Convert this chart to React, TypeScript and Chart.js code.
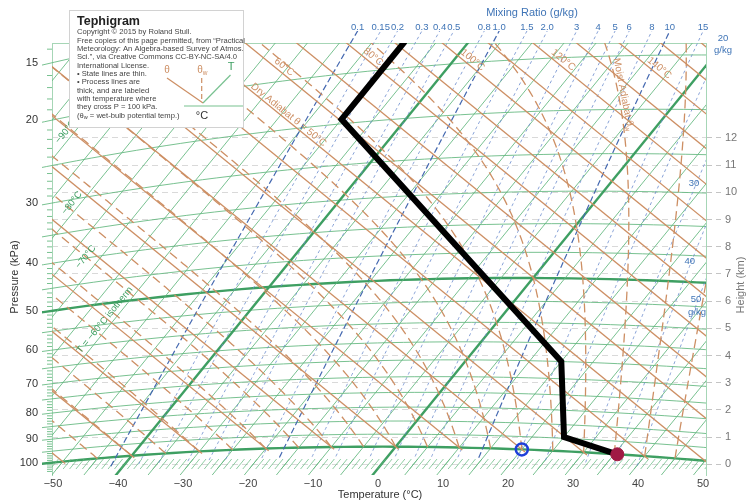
import React, { useEffect, useRef } from "react";
import { Chart, registerables } from "chart.js";

Chart.register(...registerables);

// ---------------- Data ----------------
// Environmental sounding (thick black process line)
const soundingP = [100, 94.5, 70, 24.5, 17.8]; // kPa
const soundingT = [35.5, 25, 15, -50, -50]; // °C
// Surface observations
const surfaceP = [100];
const surfaceT = [35.5]; // filled red dot
const dewpointP = [100];
const dewpointT = [20]; // open blue circle

// ---------------- Axis / grid values ----------------
const tempTicks = [-50, -40, -30, -20, -10, 0, 10, 20, 30, 40, 50];
const pressureTicks = [15, 20, 30, 40, 50, 60, 70, 80, 90, 100];
const heightTicks = [0, 1, 2, 3, 4, 5, 6, 7, 8, 9, 10, 11, 12];
const isobarValues = [15, 20, 25, 30, 35, 40, 45, 50, 55, 60, 65, 70, 75, 80, 85, 90, 95, 100];
const thickIsobars = [50, 100];
const isothermValues = [
  -110, -105, -100, -95, -90, -85, -80, -75, -70, -65, -60, -55, -50, -45, -40, -35, -30, -25,
  -20, -15, -10, -5, 0, 5, 10, 15, 20, 25, 30, 35, 40, 45, 50, 55,
];
const thickIsotherms = [-40, 0];
const dryAdiabatValues = [-50, -40, -30, -20, -10, 0, 10, 20, 30, 40, 50, 60, 70, 80, 90, 100, 110, 120, 130, 140, 150, 160, 170];
const moistAdiabatValues = [-45, -40, -35, -30, -25, -20, -15, -10, -5, 0, 5, 10, 15, 20, 25, 30, 35, 40, 45];
const mixingRatioValues = [0.1, 0.15, 0.2, 0.3, 0.4, 0.5, 0.8, 1, 1.5, 2, 3, 4, 5, 6, 8, 10, 15, 20, 30, 40, 50];
const mixingRatioLabels = ["0.1", "0.15", "0.2", "0.3", "0.4", "0.5", "0.8", "1.0", "1.5", "2.0", "3", "4", "5", "6", "8", "10", "15", "20", "30", "40", "50"];
const darkMixingRatios = [0.1, 1, 10];

const legendLines = [
  "Copyright © 2015 by Roland Stull.",
  "Free copies of this page permitted, from “Practical",
  "Meteorology: An Algebra-based Survey of Atmos.",
  "Sci.”, via Creative Commons CC-BY-NC-SA/4.0",
  "International License.",
  "• State lines are thin.",
  "• Process lines are",
  "thick, and are labeled",
  "with temperature where",
  "they cross P = 100 kPa.",
];

// ---------------- Styling ----------------
const FONT = '"Liberation Sans", Arial, Helvetica, sans-serif';
const GREEN = "rgba(96,182,124,0.85)";
const GREEN_HATCH = "rgba(96,182,124,0.7)";
const GREEN_THICK = "#3e9f62";
const FRAME_GREEN = "#a6d6b6";
const BROWN = "#cd8f64";
const BLUE = "rgba(108,140,205,0.9)";
const BLUE_DARK = "#4468b0";
const LABEL_BLUE = "#3f74b6";

// ---------------- Geometry of the diagram ----------------
const FRAME = { left: 52, right: 706, top: 43, bottom: 475 };
const X_MIN = -50.154;
const X_MAX = 50.462;
const KM0 = 464.3;
const KM_PX = 27.2;

const ORIGIN_X = 395.7; // (0 °C, 100 kPa)
const ORIGIN_Y = 446.7;
const A_T = 3.857;
const D_T = -3.143;
const B_L = 693;
const E_L = 851;
const KAPPA = 0.286;
const T0K = 273.15;
const L0 = Math.log(T0K);

const px = (Tc: number, lnTh: number): [number, number] => {
  const dL = lnTh - L0;
  return [ORIGIN_X + A_T * Tc + B_L * dL, ORIGIN_Y - (D_T * Tc + E_L * dL)];
};
const lnTheta = (Tc: number, P: number) => Math.log(Tc + T0K) + KAPPA * Math.log(100 / P);
const pxTP = (Tc: number, P: number) => px(Tc, lnTheta(Tc, P));
const xVal = (X: number) => X_MIN + ((X - FRAME.left) / (FRAME.right - FRAME.left)) * (X_MAX - X_MIN);
const yVal = (Y: number) => FRAME.bottom - Y;
const toPoint = (Tc: number, P: number) => {
  const [X, Y] = pxTP(Tc, P);
  return { x: xVal(X), y: yVal(Y) };
};

const esat = (TK: number) => 0.611 * Math.exp(5423 * (1 / T0K - 1 / TK)); // kPa
const tFromMix = (r: number, P: number) => {
  const es = (r * P) / (622 + r);
  return 1 / (1 / T0K - Math.log(es / 0.611) / 5423) - T0K;
};
const dTdP = (TK: number, P: number) => {
  const es = esat(TK);
  const rs = (0.622 * es) / Math.max(P - es, 1e-3);
  const Lv = 2.5e6;
  const Rd = 287.04;
  return (Rd * TK + Lv * rs) / (P * (1004 + (Lv * Lv * rs * 0.622) / (Rd * TK * TK)));
};
const moistPath = (thw: number) => {
  const out: [number, number][] = [];
  let T = thw + T0K;
  let P = 100;
  const h = -0.5;
  out.push([T - T0K, P]);
  while (P > 8) {
    const k1 = dTdP(T, P);
    const k2 = dTdP(T + (h / 2) * k1, P + h / 2);
    const k3 = dTdP(T + (h / 2) * k2, P + h / 2);
    const k4 = dTdP(T + h * k3, P + h);
    T += (h / 6) * (k1 + 2 * k2 + 2 * k3 + k4);
    P += h;
    out.push([T - T0K, P]);
  }
  return out;
};
const leftEdgeY = (P: number) => {
  let lo = -220;
  let hi = 90;
  for (let i = 0; i < 60; i++) {
    const m = (lo + hi) / 2;
    if (pxTP(m, P)[0] < FRAME.left) lo = m;
    else hi = m;
  }
  return pxTP((lo + hi) / 2, P)[1];
};
const isothermXAtY = (Tc: number, Y: number) => {
  const dL = (ORIGIN_Y - Y - D_T * Tc) / E_L;
  return ORIGIN_X + A_T * Tc + B_L * dL;
};
const dryXAtY = (thC: number, Y: number) => {
  const dL = Math.log(thC + T0K) - L0;
  const dT = (ORIGIN_Y - Y - E_L * dL) / D_T;
  return ORIGIN_X + A_T * dT + B_L * dL;
};

const tephigramPlugin = {
  id: "tephigram",
  beforeDatasetsDraw(chart: any) {
    const ctx: CanvasRenderingContext2D = chart.ctx;
    const ca = chart.chartArea;
    const cv = (X: number, Y: number): [number, number] => [
      chart.scales.x.getPixelForValue(xVal(X)),
      chart.scales.y.getPixelForValue(yVal(Y)),
    ];
    const line = (pts: [number, number][], color: string, width: number, dash: number[] = []) => {
      ctx.beginPath();
      pts.forEach(([X, Y], i) => {
        const [x, y] = cv(X, Y);
        if (i === 0) ctx.moveTo(x, y);
        else ctx.lineTo(x, y);
      });
      ctx.strokeStyle = color;
      ctx.lineWidth = width;
      ctx.setLineDash(dash);
      ctx.stroke();
      ctx.setLineDash([]);
    };
    const clip = (l: number, t: number, r: number, b: number) => {
      ctx.save();
      ctx.beginPath();
      ctx.rect(l, t, r - l, b - t);
      ctx.clip();
    };
    const text = (s: string, x: number, y: number, ang: number, color: string, font: string, align: CanvasTextAlign = "center") => {
      ctx.save();
      ctx.translate(x, y);
      ctx.rotate(ang);
      ctx.fillStyle = color;
      ctx.font = font;
      ctx.textAlign = align;
      ctx.textBaseline = "middle";
      ctx.fillText(s, 0, 0);
      ctx.restore();
    };

    // --- isobars (extend a little left of the frame as ticks)
    clip(ca.left - 10, ca.top, ca.right, ca.bottom);
    for (const p of isobarValues) {
      const pts: [number, number][] = [];
      for (let T = -180; T <= 80; T += 2) pts.push(pxTP(T, p));
      const thick = thickIsobars.includes(p);
      line(pts, thick ? GREEN_THICK : GREEN, thick ? 2.4 : 1);
    }
    ctx.restore();

    // minor pressure ticks on the left edge
    for (let p = 14; p <= 104; p++) {
      if (p % 5 === 0) continue;
      const Y = leftEdgeY(p);
      if (Y < FRAME.top || Y > FRAME.bottom) continue;
      line([[FRAME.left - 5, Y], [FRAME.left, Y]], GREEN, 1);
    }

    clip(ca.left, ca.top, ca.right, ca.bottom);
    // --- isotherms
    for (const T of isothermValues) {
      const thick = thickIsotherms.includes(T);
      line([pxTP(T, 115), pxTP(T, 4)], thick ? GREEN_THICK : GREEN, thick ? 2.4 : 1);
    }
    // --- 1 °C hatch marks near the bottom
    for (let T = -60; T <= 60; T++) {
      line([[isothermXAtY(T, 459), 459], [isothermXAtY(T, 469), 469]], GREEN_HATCH, 1);
    }
    ctx.restore();

    // --- saturation mixing-ratio lines (reach slightly above the frame)
    clip(ca.left, ca.top - 12, ca.right, ca.bottom);
    const mixPaths: [number, number][][] = [];
    mixingRatioValues.forEach((r) => {
      const pts: [number, number][] = [];
      for (let P = 104; P >= 4; P -= 0.5) pts.push(pxTP(tFromMix(r, P), P));
      mixPaths.push(pts);
      const dark = darkMixingRatios.includes(r);
      line(pts, dark ? BLUE_DARK : BLUE, dark ? 1.2 : 0.9, dark ? [6, 3] : [3, 3]);
    });
    ctx.restore();

    clip(ca.left, ca.top, ca.right, ca.bottom);
    // --- dry adiabats
    for (const th of dryAdiabatValues) {
      const thK = th + T0K;
      const Tb = thK * Math.pow(101 / 100, KAPPA) - T0K;
      line([px(Tb, Math.log(thK)), px(-200, Math.log(thK))], BROWN, 1.3);
    }
    // --- moist adiabats
    let moist35: [number, number][] = [];
    for (const thw of moistAdiabatValues) {
      const pts = moistPath(thw).map(([T, P]) => pxTP(T, P));
      if (thw === 35) moist35 = pts;
      line(pts, BROWN, 1.3, [9, 5]);
    }
    ctx.restore();

    // --- mixing ratio labels
    const fLab = `9.5px ${FONT}`;
    mixingRatioValues.forEach((r, i) => {
      const pts = mixPaths[i];
      if (r <= 15) {
        let X = null as number | null;
        for (let k = 1; k < pts.length; k++) {
          if (pts[k - 1][1] >= 31 && pts[k][1] < 31) {
            const f = (pts[k - 1][1] - 31) / (pts[k - 1][1] - pts[k][1]);
            X = pts[k - 1][0] + f * (pts[k][0] - pts[k - 1][0]);
            break;
          }
        }
        if (X !== null) {
          const [x, y] = cv(X, 27);
          text(mixingRatioLabels[i], x, y, 0, LABEL_BLUE, fLab);
        }
      } else if (r === 20) {
        const [x, y] = cv(723, 38);
        text("20", x, y, 0, LABEL_BLUE, fLab);
        text("g/kg", x, y + 12, 0, LABEL_BLUE, fLab);
      } else {
        const targetY = r === 30 ? 183 : r === 40 ? 261 : 299;
        let X = FRAME.right;
        for (let k = 1; k < pts.length; k++) {
          if (pts[k - 1][1] >= targetY && pts[k][1] < targetY) {
            X = pts[k][0];
            break;
          }
        }
        const [x, y] = cv(X - 3, targetY);
        text(mixingRatioLabels[i], x, y, 0, LABEL_BLUE, fLab);
        if (r === 50) text("g/kg", x + 1, y + 13, 0, LABEL_BLUE, fLab);
      }
    });

    // --- isotherm labels
    const isoAng = Math.atan2(-E_L, B_L);
    const isoN = [Math.sin(isoAng), -Math.cos(isoAng)];
    const isoLabels: [number, number, number, string][] = [
      [-90, 132, 7, "−90°C"],
      [-80, 203, 7, "−80°C"],
      [-70, 257, 12, "−70°C"],
      [-60, 320, 7, "T = −60°C isotherm"],
    ];
    isoLabels.forEach(([T, Y, off, s]) => {
      const Yl = Y - isoN[1] * off;
      const [x, y] = cv(isothermXAtY(T, Yl) + isoN[0] * off, Y);
      text(s, x, y, isoAng, GREEN_THICK, `9.5px ${FONT}`);
    });

    // --- dry adiabat labels
    const dryAng = Math.atan2(-D_T, A_T);
    const dryN = [Math.sin(dryAng), -Math.cos(dryAng)];
    const dryLabels: [number, number, number, string][] = [
      [60, 67, 6, "60°C"],
      [80, 57, 6, "80°C"],
      [100, 60, 6, "100°C"],
      [120, 60, 6, "120°C"],
      [140, 68, 6, "140°C"],
      [50, 115, 5, "Dry Adiabat θ = 50°C"],
    ];
    dryLabels.forEach(([th, Y, off, s]) => {
      const Yl = Y - dryN[1] * off;
      const [x, y] = cv(dryXAtY(th, Yl) + dryN[0] * off, Y);
      text(s, x, y, dryAng, BROWN, `10px ${FONT}`);
    });

    // --- moist adiabat label (θw = 35 °C line)
    if (moist35.length) {
      let best = 4;
      moist35.forEach((p, k) => {
        if (k > 4 && k < moist35.length - 5 && Math.abs(p[1] - 95) < Math.abs(moist35[best][1] - 95)) best = k;
      });
      const [xa, ya] = cv(moist35[best + 4][0], moist35[best + 4][1]);
      const [xb, yb] = cv(moist35[best - 4][0], moist35[best - 4][1]);
      const [xc, yc] = cv(moist35[best][0] + 5, moist35[best][1]);
      const ang = Math.atan2(yb - ya, xb - xa);
      ctx.save();
      ctx.translate(xc, yc);
      ctx.rotate(ang);
      ctx.fillStyle = BROWN;
      ctx.font = `10px ${FONT}`;
      ctx.textBaseline = "middle";
      ctx.textAlign = "left";
      const main = "Moist Adiabat θ";
      const w = ctx.measureText(main).width;
      ctx.fillText(main, -(w + 5) / 2, 0);
      ctx.font = `7px ${FONT}`;
      ctx.fillText("w", -(w + 5) / 2 + w, 3);
      ctx.restore();
    }

    // --- title box
    ctx.save();
    ctx.fillStyle = "#ffffff";
    ctx.fillRect(69, 10, 175, 118);
    ctx.strokeStyle = "#d2d2d2";
    ctx.lineWidth = 1;
    ctx.strokeRect(69.5, 10.5, 174, 117);
    ctx.fillStyle = "#222";
    ctx.textAlign = "left";
    ctx.textBaseline = "alphabetic";
    ctx.font = `bold 12.5px ${FONT}`;
    ctx.fillText("Tephigram", 77, 24.5);
    ctx.fillStyle = "#444";
    ctx.font = `7.6px ${FONT}`;
    legendLines.forEach((s, i) => ctx.fillText(s, 77, 34.4 + i * 8.33));
    const lastY = 34.4 + 10 * 8.33;
    ctx.fillText("(θ", 77, lastY);
    let wx = 77 + ctx.measureText("(θ").width;
    ctx.font = `5.5px ${FONT}`;
    ctx.fillText("w", wx, lastY + 1.5);
    wx += ctx.measureText("w").width;
    ctx.font = `7.6px ${FONT}`;
    ctx.fillText(" = wet-bulb potential temp.)", wx, lastY);
    // mini key
    ctx.lineWidth = 1.2;
    ctx.strokeStyle = BROWN;
    ctx.beginPath();
    ctx.moveTo(167, 78);
    ctx.lineTo(203, 103);
    ctx.stroke();
    ctx.setLineDash([5, 3]);
    ctx.beginPath();
    ctx.moveTo(201.7, 78);
    ctx.lineTo(201.7, 100);
    ctx.stroke();
    ctx.setLineDash([]);
    ctx.strokeStyle = GREEN;
    ctx.beginPath();
    ctx.moveTo(230.5, 75);
    ctx.lineTo(203, 103);
    ctx.stroke();
    ctx.beginPath();
    ctx.moveTo(184, 106);
    ctx.lineTo(243, 106);
    ctx.stroke();
    ctx.textAlign = "center";
    ctx.textBaseline = "middle";
    ctx.font = `10px ${FONT}`;
    ctx.fillStyle = BROWN;
    ctx.fillText("θ", 167, 70);
    ctx.fillText("θ", 200, 70);
    ctx.font = `6.5px ${FONT}`;
    ctx.fillText("w", 205, 73);
    ctx.fillStyle = GREEN_THICK;
    ctx.font = `11px ${FONT}`;
    ctx.fillText("T", 231, 67);
    ctx.fillStyle = "#333";
    ctx.font = `11px ${FONT}`;
    ctx.fillText("°C", 202, 115.5);
    ctx.restore();

    // --- axis titles
    text("Pressure (kPa)", 15, 277, -Math.PI / 2, "#333", `11px ${FONT}`);
    text("Height (km)", 741, 285, -Math.PI / 2, "#777", `11px ${FONT}`);
    text("Temperature (°C)", 380, 495, 0, "#333", `11px ${FONT}`);
    text("Mixing Ratio (g/kg)", 532, 13, 0, LABEL_BLUE, `11px ${FONT}`);
  },
};

export default function App() {
  const ref = useRef<HTMLCanvasElement>(null);
  useEffect(() => {
    const canvas = ref.current;
    if (!canvas) return;
    const chart = new Chart(canvas, {
      type: "scatter",
      data: {
        datasets: [
          {
            label: "Surface temperature",
            data: surfaceP.map((p, i) => toPoint(surfaceT[i], p)),
            pointRadius: 6.5,
            pointBackgroundColor: "#a01a44",
            pointBorderColor: "#a01a44",
            pointBorderWidth: 1,
            showLine: false,
          },
          {
            label: "Surface dew point",
            data: dewpointP.map((p, i) => toPoint(dewpointT[i], p)),
            pointRadius: 6,
            pointBackgroundColor: "rgba(0,0,0,0)",
            pointBorderColor: "#1d3fd8",
            pointBorderWidth: 2.5,
            showLine: false,
          },
          {
            label: "Sounding",
            data: soundingP.map((p, i) => toPoint(soundingT[i], p)),
            showLine: true,
            borderColor: "#000",
            borderWidth: 6,
            borderJoinStyle: "miter",
            pointRadius: 0,
            tension: 0,
          },
        ],
      },
      options: {
        responsive: false,
        maintainAspectRatio: false,
        animation: false,
        devicePixelRatio: 1,
        events: [],
        layout: { padding: 0, autoPadding: false },
        plugins: { legend: { display: false }, tooltip: { enabled: false }, title: { display: false } },
        scales: {
          x: {
            type: "linear",
            position: "bottom",
            min: X_MIN,
            max: X_MAX,
            afterFit: (s: any) => {
              s.height = 25;
            },
            afterBuildTicks: (s: any) => {
              s.ticks = tempTicks.map((v) => ({ value: v }));
            },
            ticks: {
              callback: (v: any) => String(v).replace("-", "−"),
              color: "#444",
              font: { size: 11, family: FONT },
              padding: 2,
              maxRotation: 0,
              autoSkip: false,
            },
            grid: { display: false, drawTicks: false, tickLength: 0 },
            border: { display: false },
          },
          xTop: {
            type: "linear",
            position: "top",
            min: X_MIN,
            max: X_MAX,
            afterFit: (s: any) => {
              s.height = 43;
            },
            ticks: { display: false },
            grid: { display: false },
            border: { display: true, color: FRAME_GREEN, width: 1 },
          },
          y: {
            type: "linear",
            position: "left",
            min: 0,
            max: FRAME.bottom - FRAME.top,
            afterFit: (s: any) => {
              s.width = 52;
            },
            afterBuildTicks: (s: any) => {
              s.ticks = pressureTicks.map((p) => ({ value: yVal(leftEdgeY(p)) }));
            },
            ticks: {
              callback: (_v: any, i: number) => String(pressureTicks[i]),
              color: "#333",
              font: { size: 11, family: FONT },
              padding: 4,
              autoSkip: false,
            },
            grid: { display: true, drawOnChartArea: false, drawTicks: true, tickLength: 10, color: "rgba(0,0,0,0)" },
            border: { display: true, color: FRAME_GREEN, width: 1 },
          },
          yH: {
            type: "linear",
            position: "right",
            min: (KM0 - FRAME.bottom) / KM_PX,
            max: (KM0 - FRAME.top) / KM_PX,
            afterFit: (s: any) => {
              s.width = 40;
            },
            afterBuildTicks: (s: any) => {
              s.ticks = heightTicks.map((v) => ({ value: v }));
            },
            ticks: {
              color: "#777",
              font: { size: 11, family: FONT },
              padding: 3,
              autoSkip: false,
            },
            grid: {
              display: true,
              drawOnChartArea: true,
              drawTicks: true,
              tickLength: 16,
              color: "#d9d9d9",
              tickColor: "#c4c4c4",
              tickBorderDash: [5, 4],
              lineWidth: 1,
            },
            border: { display: true, color: FRAME_GREEN, width: 1, dash: [6, 4] },
          },
        },
      },
      plugins: [tephigramPlugin],
    } as any);
    return () => chart.destroy();
  }, []);
  return (
    <div style={{ position: "absolute", left: 0, top: 0, width: 746, height: 500 }}>
      <canvas ref={ref} width={746} height={500} style={{ display: "block", width: 746, height: 500 }} />
    </div>
  );
}
